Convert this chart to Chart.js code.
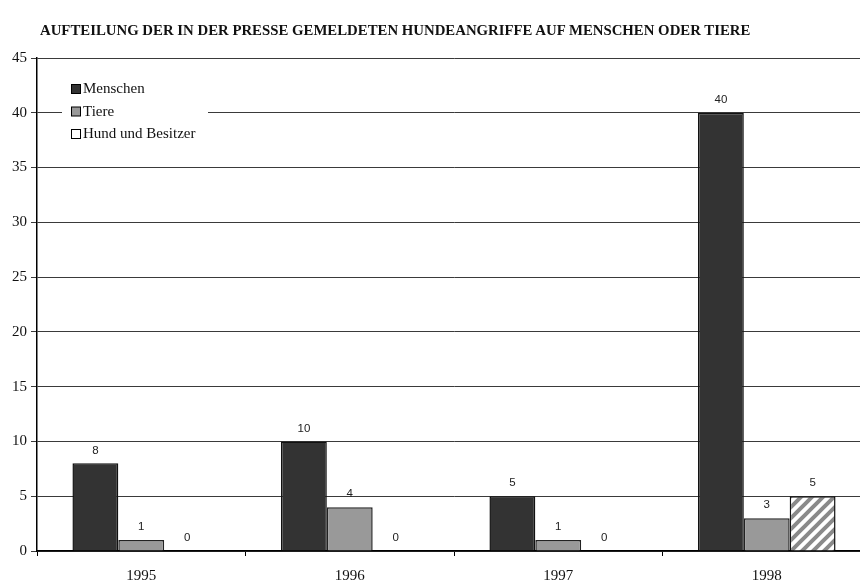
<!DOCTYPE html>
<html>
<head>
<meta charset="utf-8">
<script src="https://cdn.jsdelivr.net/npm/chart.js@4.4.0/dist/chart.umd.min.js"></script>
<style>
  html, body { margin: 0; padding: 0; background: #fff; overflow: hidden; }
  #wrap { position: relative; width: 880px; height: 580px; }
  #title {
    position: absolute; left: 40px; top: 22px;
    font: bold 14.8px 'Liberation Serif', 'DejaVu Serif', serif;
    color: #111; letter-spacing: 0px; white-space: nowrap;
  }
</style>
</head>
<body>
<div id="wrap">
  <div id="title">AUFTEILUNG DER IN DER PRESSE GEMELDETEN HUNDEANGRIFFE AUF MENSCHEN ODER TIERE</div>
  <canvas id="c"></canvas>
</div>
<script>
  'use strict';

  var years = ['1995', '1996', '1997', '1998'];
  var menschen = [8, 10, 5, 40];
  var tiere = [1, 4, 1, 3];
  var hundUndBesitzer = [0, 0, 0, 5];
  var seriesNames = ['Menschen', 'Tiere', 'Hund und Besitzer'];
  var yTicks = [0, 5, 10, 15, 20, 25, 30, 35, 40, 45];

  var SERIF = "'Liberation Serif', 'DejaVu Serif', serif";
  var SANS = "'Liberation Sans', Arial, sans-serif";

  // diagonal stripe fill for the third series
  function _stripes() {
    var p = document.createElement('canvas');
    p.width = 11; p.height = 11;
    var g = p.getContext('2d');
    g.fillStyle = '#fff';
    g.fillRect(0, 0, 11, 11);
    g.strokeStyle = '#8a8a8a';
    g.lineWidth = 4;
    g.beginPath();
    g.moveTo(-5.5, 5.5); g.lineTo(5.5, -5.5);
    g.moveTo(0, 11); g.lineTo(11, 0);
    g.moveTo(5.5, 16.5); g.lineTo(16.5, 5.5);
    g.stroke();
    return g.createPattern(p, 'repeat');
  }

  var fills = ['#333333', '#999999', null];

  var valueLabels = {
    id: 'valueLabels',
    afterDatasetsDraw: function (chart) {
      var ctx = chart.ctx;
      ctx.save();
      ctx.font = '11.5px ' + SANS;
      ctx.fillStyle = '#222';
      ctx.textAlign = 'center';
      ctx.textBaseline = 'middle';
      chart.data.datasets.forEach(function (ds, i) {
        var meta = chart.getDatasetMeta(i);
        meta.data.forEach(function (bar, j) {
          ctx.fillText(String(ds.data[j]), bar.x, bar.y - 13);
        });
      });
      ctx.restore();
    }
  };

  var boxLegend = {
    id: 'boxLegend',
    afterDraw: function (chart) {
      var ctx = chart.ctx;
      var a = chart.chartArea;
      var x0 = a.left + 25, y0 = a.top + 17;
      ctx.save();
      ctx.fillStyle = '#fff';
      ctx.fillRect(x0, y0, 146, 74);
      ctx.font = '15px ' + SERIF;
      ctx.textBaseline = 'middle';
      ctx.textAlign = 'left';
      seriesNames.forEach(function (name, i) {
        var cy = y0 + 14 + i * 22.5;
        var ds = chart.data.datasets[i];
        ctx.fillStyle = i === 2 ? '#fff' : ds.backgroundColor;
        ctx.fillRect(x0 + 9.5, cy - 4.5, 9, 9);
        ctx.strokeStyle = '#000';
        ctx.lineWidth = 1;
        ctx.strokeRect(x0 + 9.5, cy - 4.5, 9, 9);
        ctx.fillStyle = '#111';
        ctx.fillText(name, x0 + 21, cy + 0.5);
      });
      ctx.restore();
    }
  };

  var ctx = document.getElementById('c').getContext('2d');
  var stripe = _stripes();

  function _ds(label, data, fill, border) {
    return {
      label: label,
      data: data,
      backgroundColor: fill,
      borderColor: border,
      borderWidth: 1.5,
      borderSkipped: 'bottom',
      categoryPercentage: 0.66,
      barPercentage: 1.0
    };
  }

  new Chart(ctx, {
    type: 'bar',
    data: {
      labels: years,
      datasets: [
        _ds(seriesNames[0], menschen, fills[0], '#111'),
        _ds(seriesNames[1], tiere, fills[1], '#222'),
        _ds(seriesNames[2], hundUndBesitzer, stripe, '#111')
      ]
    },
    options: {
      responsive: true,
      maintainAspectRatio: false,
      animation: false,
      layout: { padding: { top: 58, right: 9, left: 0, bottom: 0 } },
      plugins: {
        legend: { display: false },
        tooltip: { enabled: false },
        title: { display: false }
      },
      scales: {
        x: {
          grid: { display: true, drawOnChartArea: false, drawTicks: true, tickLength: 5, color: '#000', offset: true },
          border: { display: true, color: '#000', width: 1.5 },
          ticks: { color: '#111', font: { family: SERIF, size: 15 }, padding: 11 },
          afterFit: function (s) { s.height = 29; }
        },
        y: {
          min: 0,
          max: 45,
          afterBuildTicks: function (s) {
            s.ticks = yTicks.map(function (v) { return { value: v }; });
          },
          grid: { color: '#3a3a3a', lineWidth: 1, tickLength: 6, drawTicks: true },
          border: { display: true, color: '#000', width: 1.5 },
          ticks: { color: '#111', font: { family: SERIF, size: 15 }, padding: 4 },
          afterFit: function (s) { s.width = 37; }
        }
      }
    },
    plugins: [valueLabels, boxLegend]
  });
</script>
</body>
</html>
